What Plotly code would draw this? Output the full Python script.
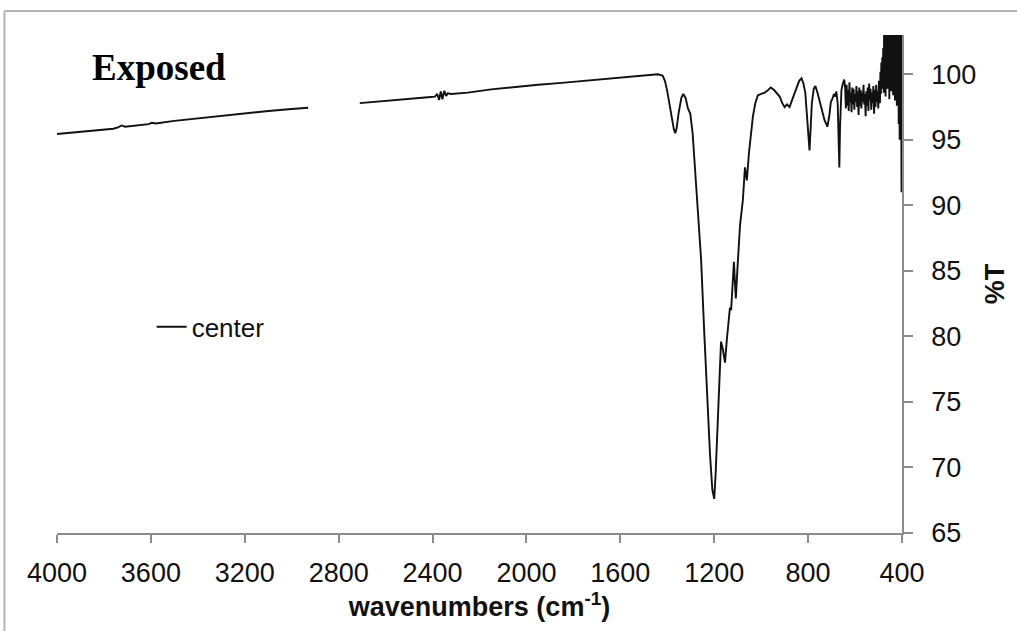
import plotly.graph_objects as go

# ---------------- data ----------------
# baseline segment 1 (4000 -> ~2930 cm-1)
wn_a = [4000, 3900, 3800, 3760, 3740, 3725, 3710, 3680, 3640, 3610, 3595, 3580,
        3500, 3400, 3300, 3200, 3100, 3000, 2930]
t_a = [95.45, 95.6, 95.8, 95.85, 95.95, 96.1, 96.0, 96.05, 96.15, 96.2, 96.3, 96.25,
       96.45, 96.65, 96.85, 97.0, 97.2, 97.35, 97.45]

# gap in the recorded trace
wn_gap = [2820]
t_gap = [None]

# segment 2 (2710 -> 645 cm-1)
wn_b = [2710, 2600, 2500, 2420, 2390, 2380, 2372, 2365, 2358, 2350, 2342, 2335, 2320,
        2250, 2150, 2050, 1950, 1850, 1750, 1650, 1550, 1480, 1440, 1420, 1410,
        1400, 1390, 1380, 1372, 1366, 1360, 1352, 1340, 1332, 1322, 1312, 1302,
        1292, 1281, 1270, 1256, 1243, 1230, 1218, 1208, 1200, 1194, 1188, 1183,
        1177, 1171, 1163, 1154, 1146, 1138, 1133, 1128, 1122, 1116, 1112, 1108,
        1100, 1090, 1078, 1069, 1065, 1061, 1052, 1043, 1035, 1025, 1014, 1000,
        985, 970, 959, 945, 930, 921, 910, 900, 890, 879, 865, 850, 838, 828,
        820, 812, 804, 799, 794, 790, 784, 776, 769, 760, 750, 740, 730, 718,
        710, 703, 697, 690, 684, 680, 674, 670, 667, 664, 658, 652, 646]
t_b = [97.8, 97.95, 98.1, 98.25, 98.3, 98.5, 98.05, 98.7, 98.1, 98.75, 98.35, 98.55, 98.5,
       98.6, 98.85, 99.05, 99.2, 99.35, 99.5, 99.65, 99.8, 99.9, 100.0, 99.9, 99.5,
       98.7, 97.6, 96.5, 95.8, 95.5, 95.9, 97.0, 98.2, 98.5, 98.2, 97.4, 97.0,
       95.5, 92.8, 89.5, 85.9, 80.5, 75.5, 71.0, 68.3, 67.6, 69.5, 72.0, 74.5,
       77.5, 79.6, 79.0, 78.0, 79.8, 81.6, 82.2, 82.0, 84.0, 85.7, 84.2, 82.9,
       85.5, 88.5, 90.4, 92.9, 92.4, 91.9, 94.0, 95.8, 96.8, 97.8, 98.4, 98.5,
       98.6, 98.8, 99.0, 98.8, 98.5, 98.3, 97.8, 97.5, 97.7, 97.5, 98.2, 99.0, 99.5, 99.7,
       99.3, 98.6, 97.0, 95.4, 94.2, 95.6, 97.8, 98.9, 99.1, 98.6, 97.9, 97.2, 96.5, 96.0,
       96.8, 97.9, 98.1, 98.5, 98.3, 98.7, 97.8, 95.0, 92.9, 96.0, 98.8, 99.3, 99.6]

# noisy region (645 -> 496 cm-1)
wn_c = [642, 639, 636, 633, 630, 627, 624, 621, 618, 615, 612, 609, 606, 603,
        600, 597, 594, 591, 588, 585, 582, 579, 576, 573, 570, 567, 564, 561,
        558, 555, 552, 549, 546, 543, 540, 537, 534, 531, 528, 525, 522, 519,
        516, 513, 510, 507, 504, 501, 498, 496]
t_c = [98.9, 97.4, 99.2, 97.6, 98.8, 97.2, 99.4, 97.9, 98.6, 97.1, 99.0, 97.7, 98.9, 97.3,
       98.5, 97.9, 99.1, 97.5, 98.7, 96.9, 99.0, 97.6, 98.8, 97.4, 98.6, 97.9, 99.2, 97.7,
       98.5, 96.8, 98.7, 97.6, 99.0, 97.2, 99.3, 98.0, 98.9, 97.3, 98.6, 97.8, 99.1, 97.0,
       98.8, 97.5, 99.2, 97.9, 98.7, 97.4, 99.5, 98.4]

# strongly noisy end (494 -> 400 cm-1)
wn_d = [494, 492, 490, 488, 486, 484, 482, 480, 478, 476, 474, 472, 470, 468,
        466, 464, 462, 460, 458, 456, 454, 452, 450, 448, 446, 444, 442, 440,
        438, 436, 434, 432, 430, 428, 426, 424, 422, 420, 418, 416, 414, 412,
        410, 408, 406, 404, 402, 400]
t_d = [97.8, 100.2, 98.5, 100.9, 98.9, 101.3, 99.2, 102.0, 98.6, 104.0, 99.0, 104.0, 98.3, 103.5,
       99.6, 104.0, 98.9, 102.5, 99.4, 104.0, 98.1, 103.0, 99.8, 104.0, 98.7, 101.8, 99.1, 104.0,
       98.4, 102.6, 99.5, 104.0, 98.0, 103.2, 99.3, 104.0, 97.6, 102.1, 98.9, 104.0, 96.2, 103.5,
       95.0, 104.0, 97.0, 104.0, 91.0, 95.5]

wavenumbers = wn_a + wn_gap + wn_b + wn_c + wn_d
transmittance = t_a + t_gap + t_b + t_c + t_d

x_ticks = [4000, 3600, 3200, 2800, 2400, 2000, 1600, 1200, 800, 400]
y_ticks = [65, 70, 75, 80, 85, 90, 95, 100]

# ---------------- figure ----------------
SANS = "Liberation Sans, Arial, Helvetica, sans-serif"
SERIF = "Liberation Serif, Times New Roman, serif"
AXIS_COL = "#8c8c8c"
TXT = "#111111"

fig = go.Figure()
fig.add_trace(go.Scatter(
    x=wavenumbers, y=transmittance, mode="lines", name="center",
    line=dict(color=TXT, width=1.9), connectgaps=False,
))

fig.update_layout(
    width=1017, height=631,
    margin=dict(l=57, r=113, t=35, b=98),
    paper_bgcolor="white", plot_bgcolor="white",
    font=dict(family=SANS, color=TXT, size=26),
    showlegend=True,
    legend=dict(x=0.112, y=0.414, xanchor="left", yanchor="middle",
                bgcolor="rgba(0,0,0,0)", borderwidth=0,
                font=dict(family=SANS, size=26, color=TXT)),
    xaxis=dict(
        range=[4000, 400], tickvals=x_ticks, ticktext=[str(v) for v in x_ticks],
        showgrid=False, zeroline=False, showline=True, linecolor=AXIS_COL, linewidth=1.5,
        ticks="outside", ticklen=8, tickcolor=AXIS_COL, tickwidth=1.5,
        tickfont=dict(family=SANS, size=27, color=TXT), ticklabelstandoff=7,
        title=dict(text="<b>wavenumbers (cm<sup>-1</sup>)</b>", standoff=8,
                   font=dict(family=SANS, size=27, color=TXT)),
    ),
    yaxis=dict(
        side="right", range=[65, 103], tickvals=y_ticks,
        showgrid=False, zeroline=False, showline=True, linecolor=AXIS_COL, linewidth=1.5,
        ticks="outside", ticklen=9, tickcolor=AXIS_COL, tickwidth=1.5,
        tickfont=dict(family=SANS, size=27, color=TXT), ticklabelstandoff=13,
        title=dict(text="<b>%T</b>", standoff=10,
                   font=dict(family=SANS, size=27, color=TXT)),
    ),
    annotations=[dict(
        text="<b>Exposed</b>", xref="paper", yref="paper", x=0.1207, y=0.934,
        xanchor="center", yanchor="middle", showarrow=False,
        font=dict(family=SERIF, size=37, color="#000000"),
    )],
    shapes=[
        dict(type="line", xref="paper", yref="paper", x0=-0.0622, y0=1.0482, x1=1.2, y1=1.0482,
             line=dict(color="#b4b4b4", width=2)),
        dict(type="line", xref="paper", yref="paper", x0=-0.0622, y0=1.0482, x1=-0.0622, y1=-0.25,
             line=dict(color="#b4b4b4", width=2)),
    ],
)

fig.write_html("out.html", config={"displayModeBar": False},
               post_script="document.body.style.margin='0px';document.body.style.overflow='hidden';")
